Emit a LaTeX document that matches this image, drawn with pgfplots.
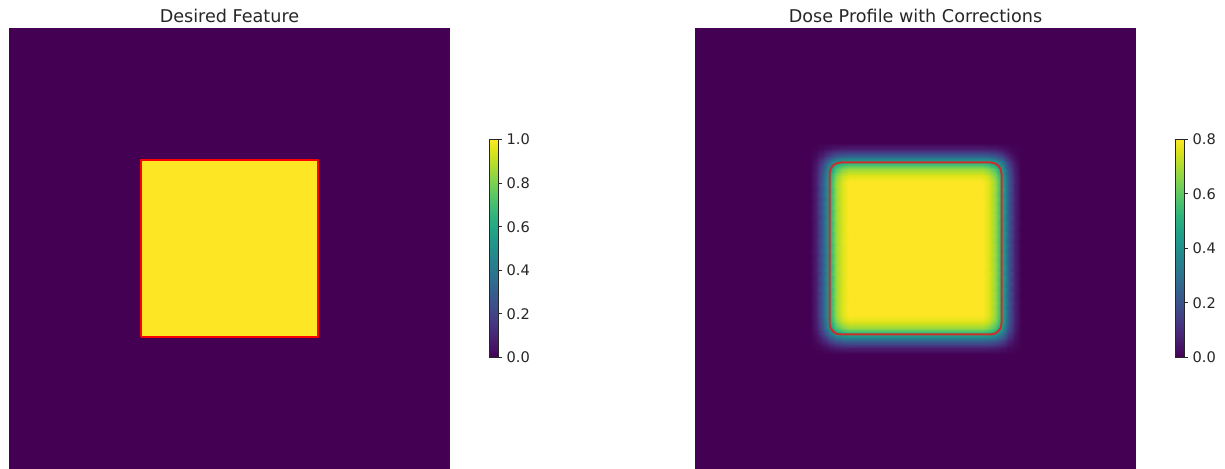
\documentclass[border=0pt]{standalone}
\usepackage{fontspec}
\setmainfont{DejaVu Sans}
\usepackage{pgfplots}
\pgfplotsset{compat=1.18}

\definecolor{txt}{HTML}{262626}
\definecolor{contourR}{RGB}{205,45,45}

\pgfplotsset{
  fieldmap/.style={
    scale only axis, width=220.5pt, height=220.5pt,
    view={0}{90}, hide axis,
    xmin=0, xmax=100, ymin=0, ymax=100, enlargelimits=false,
    colormap name=viridis,
    % the default title style already shifts up by 6pt
    title style={font=\fontsize{8.8}{10}\selectfont, text=txt,
                 at={(0.5,1)}, anchor=base, yshift=-3.5pt},
    colorbar,
    % the default colorbar style already shifts right by 0.3cm
    colorbar style={
      at={(parent axis.east)}, anchor=west, xshift=11pt,
      width=4.5pt, height=109pt,
      xtick=\empty,
      ytick pos=right, yticklabel pos=right,
      tick align=outside, major tick length=1.75pt,
      tick style={txt, line width=0.5pt},
      axis line style={txt, line width=0.5pt},
      yticklabel style={font=\fontsize{7.3}{8}\selectfont, text=txt, xshift=-1pt,
        /pgf/number format/.cd, fixed, fixed zerofill, precision=1,
        assume math mode=true},
    },
  }
}

\begin{document}
\begin{tikzpicture}
\useasboundingbox (0,0) rectangle (612.5pt,234.5pt);

% target pattern: unit dose inside the square, zero outside
\begin{axis}[fieldmap, at={(4.5pt,0pt)}, anchor=south west,
  title={Desired Feature},
  point meta min=0, point meta max=1,
  colorbar style={ytick={0,0.2,0.4,0.6,0.8,1.0}}]
\addplot3[surf, shader=interp] coordinates {
(0,0,0) (29.9,0,0) (30.1,0,0) (69.9,0,0) (70.1,0,0) (100,0,0)

(0,29.9,0) (29.9,29.9,0) (30.1,29.9,0) (69.9,29.9,0) (70.1,29.9,0) (100,29.9,0)

(0,30.1,0) (29.9,30.1,0) (30.1,30.1,1) (69.9,30.1,1) (70.1,30.1,0) (100,30.1,0)

(0,69.9,0) (29.9,69.9,0) (30.1,69.9,1) (69.9,69.9,1) (70.1,69.9,0) (100,69.9,0)

(0,70.1,0) (29.9,70.1,0) (30.1,70.1,0) (69.9,70.1,0) (70.1,70.1,0) (100,70.1,0)

(0,100,0) (29.9,100,0) (30.1,100,0) (69.9,100,0) (70.1,100,0) (100,100,0)
};
% feature outline
\addplot[red, line width=1pt, line join=round] coordinates {
(30,30) (70,30) (70,70) (30,70) (30,30)};
\end{axis}

% exposure after proximity corrections
\begin{axis}[fieldmap, at={(347.5pt,0pt)}, anchor=south west,
  title={Dose Profile with Corrections},
  point meta min=0, point meta max=0.8,
  colorbar style={ytick={0,0.2,0.4,0.6,0.8}}]
\addplot3[surf, shader=interp] coordinates {
(0,0,0) (26,0,0) (27.5,0,0) (29,0,0) (30.5,0,0) (32,0,0) (33.5,0,0) (35,0,0) (50,0,0) (65,0,0) (66.5,0,0) (68,0,0) (69.5,0,0) (71,0,0) (72.5,0,0) (74,0,0) (100,0,0)

(0,26,0) (26,26,0) (27.5,26,0) (29,26,0) (30.5,26,0) (32,26,0) (33.5,26,0) (35,26,0) (50,26,0) (65,26,0) (66.5,26,0) (68,26,0) (69.5,26,0) (71,26,0) (72.5,26,0) (74,26,0) (100,26,0)

(0,27.5,0) (26,27.5,0) (27.5,27.5,0.005) (29,27.5,0.019) (30.5,27.5,0.040) (32,27.5,0.054) (33.5,27.5,0.061) (35,27.5,0.064) (50,27.5,0.064) (65,27.5,0.064) (66.5,27.5,0.061) (68,27.5,0.054) (69.5,27.5,0.040) (71,27.5,0.019) (72.5,27.5,0.005) (74,27.5,0) (100,27.5,0)

(0,29,0) (26,29,0) (27.5,29,0.019) (29,29,0.072) (30.5,29,0.149) (32,29,0.204) (33.5,29,0.230) (35,29,0.240) (50,29,0.240) (65,29,0.240) (66.5,29,0.230) (68,29,0.204) (69.5,29,0.149) (71,29,0.072) (72.5,29,0.019) (74,29,0) (100,29,0)

(0,30.5,0) (26,30.5,0) (27.5,30.5,0.040) (29,30.5,0.149) (30.5,30.5,0.308) (32,30.5,0.422) (33.5,30.5,0.476) (35,30.5,0.496) (50,30.5,0.496) (65,30.5,0.496) (66.5,30.5,0.476) (68,30.5,0.422) (69.5,30.5,0.308) (71,30.5,0.149) (72.5,30.5,0.040) (74,30.5,0) (100,30.5,0)

(0,32,0) (26,32,0) (27.5,32,0.054) (29,32,0.204) (30.5,32,0.422) (32,32,0.578) (33.5,32,0.653) (35,32,0.680) (50,32,0.680) (65,32,0.680) (66.5,32,0.653) (68,32,0.578) (69.5,32,0.422) (71,32,0.204) (72.5,32,0.054) (74,32,0) (100,32,0)

(0,33.5,0) (26,33.5,0) (27.5,33.5,0.061) (29,33.5,0.230) (30.5,33.5,0.476) (32,33.5,0.653) (33.5,33.5,0.737) (35,33.5,0.768) (50,33.5,0.768) (65,33.5,0.768) (66.5,33.5,0.737) (68,33.5,0.653) (69.5,33.5,0.476) (71,33.5,0.230) (72.5,33.5,0.061) (74,33.5,0) (100,33.5,0)

(0,35,0) (26,35,0) (27.5,35,0.064) (29,35,0.240) (30.5,35,0.496) (32,35,0.680) (33.5,35,0.768) (35,35,0.800) (50,35,0.800) (65,35,0.800) (66.5,35,0.768) (68,35,0.680) (69.5,35,0.496) (71,35,0.240) (72.5,35,0.064) (74,35,0) (100,35,0)

(0,50,0) (26,50,0) (27.5,50,0.064) (29,50,0.240) (30.5,50,0.496) (32,50,0.680) (33.5,50,0.768) (35,50,0.800) (50,50,0.800) (65,50,0.800) (66.5,50,0.768) (68,50,0.680) (69.5,50,0.496) (71,50,0.240) (72.5,50,0.064) (74,50,0) (100,50,0)

(0,65,0) (26,65,0) (27.5,65,0.064) (29,65,0.240) (30.5,65,0.496) (32,65,0.680) (33.5,65,0.768) (35,65,0.800) (50,65,0.800) (65,65,0.800) (66.5,65,0.768) (68,65,0.680) (69.5,65,0.496) (71,65,0.240) (72.5,65,0.064) (74,65,0) (100,65,0)

(0,66.5,0) (26,66.5,0) (27.5,66.5,0.061) (29,66.5,0.230) (30.5,66.5,0.476) (32,66.5,0.653) (33.5,66.5,0.737) (35,66.5,0.768) (50,66.5,0.768) (65,66.5,0.768) (66.5,66.5,0.737) (68,66.5,0.653) (69.5,66.5,0.476) (71,66.5,0.230) (72.5,66.5,0.061) (74,66.5,0) (100,66.5,0)

(0,68,0) (26,68,0) (27.5,68,0.054) (29,68,0.204) (30.5,68,0.422) (32,68,0.578) (33.5,68,0.653) (35,68,0.680) (50,68,0.680) (65,68,0.680) (66.5,68,0.653) (68,68,0.578) (69.5,68,0.422) (71,68,0.204) (72.5,68,0.054) (74,68,0) (100,68,0)

(0,69.5,0) (26,69.5,0) (27.5,69.5,0.040) (29,69.5,0.149) (30.5,69.5,0.308) (32,69.5,0.422) (33.5,69.5,0.476) (35,69.5,0.496) (50,69.5,0.496) (65,69.5,0.496) (66.5,69.5,0.476) (68,69.5,0.422) (69.5,69.5,0.308) (71,69.5,0.149) (72.5,69.5,0.040) (74,69.5,0) (100,69.5,0)

(0,71,0) (26,71,0) (27.5,71,0.019) (29,71,0.072) (30.5,71,0.149) (32,71,0.204) (33.5,71,0.230) (35,71,0.240) (50,71,0.240) (65,71,0.240) (66.5,71,0.230) (68,71,0.204) (69.5,71,0.149) (71,71,0.072) (72.5,71,0.019) (74,71,0) (100,71,0)

(0,72.5,0) (26,72.5,0) (27.5,72.5,0.005) (29,72.5,0.019) (30.5,72.5,0.040) (32,72.5,0.054) (33.5,72.5,0.061) (35,72.5,0.064) (50,72.5,0.064) (65,72.5,0.064) (66.5,72.5,0.061) (68,72.5,0.054) (69.5,72.5,0.040) (71,72.5,0.019) (72.5,72.5,0.005) (74,72.5,0) (100,72.5,0)

(0,74,0) (26,74,0) (27.5,74,0) (29,74,0) (30.5,74,0) (32,74,0) (33.5,74,0) (35,74,0) (50,74,0) (65,74,0) (66.5,74,0) (68,74,0) (69.5,74,0) (71,74,0) (72.5,74,0) (74,74,0) (100,74,0)

(0,100,0) (26,100,0) (27.5,100,0) (29,100,0) (30.5,100,0) (32,100,0) (33.5,100,0) (35,100,0) (50,100,0) (65,100,0) (66.5,100,0) (68,100,0) (69.5,100,0) (71,100,0) (72.5,100,0) (74,100,0) (100,100,0)
};
% iso-dose contour at the printing threshold
\addplot[contourR, line width=1pt, line join=round] coordinates {
(30.5,33) (30.69,32.04) (31.23,31.23) (32.04,30.69) (33,30.5)
(67,30.5) (67.96,30.69) (68.77,31.23) (69.31,32.04) (69.5,33)
(69.5,67) (69.31,67.96) (68.77,68.77) (67.96,69.31) (67,69.5)
(33,69.5) (32.04,69.31) (31.23,68.77) (30.69,67.96) (30.5,67)
(30.5,33)};
\end{axis}
\end{tikzpicture}
\end{document}
